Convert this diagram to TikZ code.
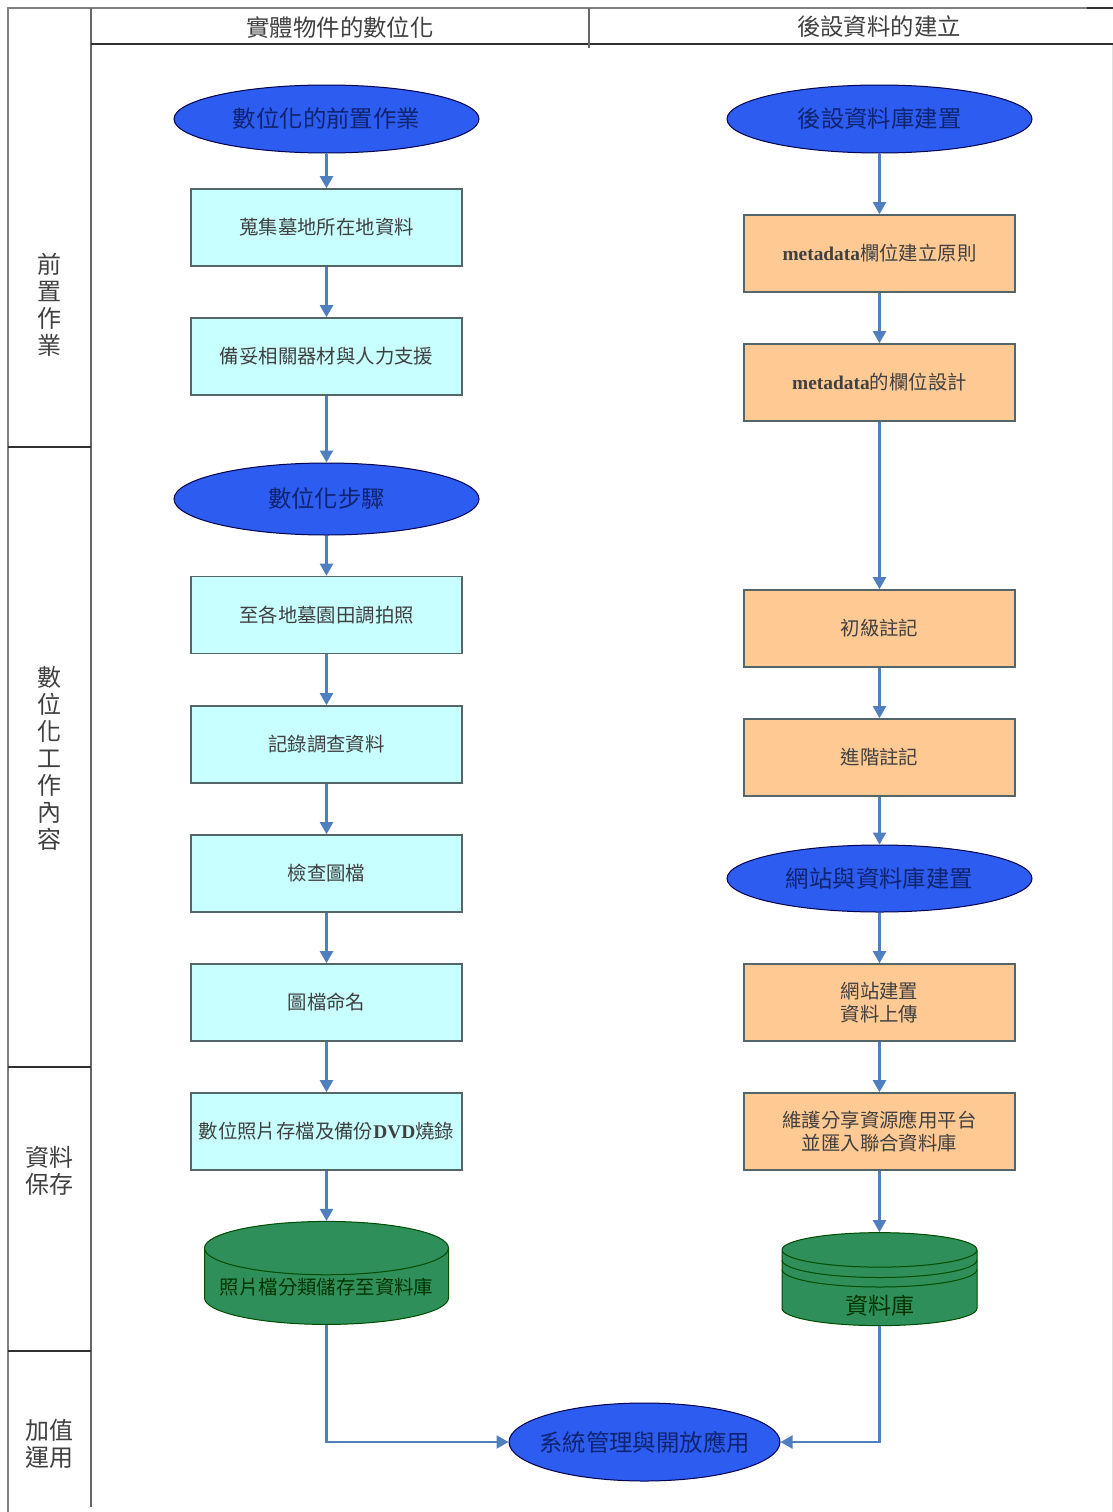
\documentclass[tikz,border=0pt]{standalone}
\usepackage{fontspec}
\usepackage{tikz}
\usetikzlibrary{arrows.meta,shapes.geometric}
\setmainfont{Noto Sans CJK TC}
\newfontfamily\latinbf{Liberation Serif}[BoldFont={Liberation Serif Bold}]
\definecolor{laneline}{HTML}{808080}
\definecolor{lanedark}{HTML}{303030}
\definecolor{flowblue}{HTML}{4F7FBF}
\definecolor{ovalblue}{HTML}{2D5CF0}
\definecolor{ovaltext}{HTML}{0F2470}
\definecolor{stepcyan}{HTML}{C8FFFF}
\definecolor{steporange}{HTML}{FFC993}
\definecolor{dbgreen}{HTML}{2F8F5B}
\definecolor{boxedge}{HTML}{55666A}
\tikzset{
    x=1pt, y=-1pt,
    lane/.style={draw=laneline, line width=2.4pt},
    lanethin/.style={draw=lanedark, line width=1.5pt},
    lanehead/.style={font=\fontsize{23.4}{25}\selectfont, text=black!75},
    laneside/.style={font=\fontsize{24}{27}\selectfont, text=black!75, align=center, text width=30pt},
    oval/.style={ellipse, draw=black!70!blue, fill=ovalblue, line width=1pt, minimum width=305pt, minimum height=68pt, inner sep=-30pt, font=\fontsize{23.4}{26}\selectfont, text=ovaltext},
    stepbox/.style={rectangle, draw=boxedge, line width=1.6pt, minimum width=271pt, minimum height=77pt, inner sep=0pt, align=center, font=\fontsize{19.4}{23}\selectfont, text=black!75},
    cyanbox/.style={stepbox, fill=stepcyan},
    orangebox/.style={stepbox, fill=steporange},
    store/.style={cylinder, shape border rotate=90, draw=black!70!green, fill=dbgreen, line width=1pt, inner sep=0pt, text=black!80!green, cylinder uses custom fill, cylinder body fill=dbgreen, cylinder end fill=dbgreen},
    storeline/.style={draw=black!70!green, line width=1pt},
    flow/.style={draw=flowblue, line width=2.2pt, -{Triangle[width=13pt,length=12pt]}},
}
\newcommand{\bflat}[1]{{\latinbf\bfseries #1}}
\newcommand{\droptext}[2]{\raisebox{-#1}[0pt][0pt]{#2}}
\begin{document}
\begin{tikzpicture}
    % Page and swimlanes:
    \useasboundingbox (0,0) rectangle (1113,1512);
    \coordinate (laneTL) at (8,8);
    \coordinate (laneTR) at (1113,8);
    \coordinate (laneBL) at (8,1512);
    \coordinate (sideTR) at (91,8);
    \coordinate (sideBR) at (91,1507);
    \coordinate (headL) at (91,44);
    \coordinate (headR) at (1113,44);
    \coordinate (midT) at (589,8);
    \coordinate (midB) at (589,48);
    \coordinate (cornerL) at (1087,8);
    \coordinate (edgeT) at (1112,44);
    \coordinate (edgeB) at (1112,1512);
    \draw[draw=black!12, line width=1pt] (edgeT) -- (edgeB);
    \draw[lane] (laneBL) -- (laneTL) -- (laneTR);
    \draw[lanethin, line width=2pt, draw=lanedark] (cornerL) -- (laneTR);
    \draw[lane, line width=2pt, draw=black!60] (sideTR) -- (sideBR);
    \draw[lanethin] (headL) -- (headR);
    \draw[lane, line width=2pt, draw=black!60] (midT) -- (midB);
    \foreach \ypos in {447,1067,1351}
        \draw[lanethin] (8,\ypos) -- (91,\ypos);
    \node[lanehead] (headA) at (340,28){實體物件的數位化};
    \node[lanehead] (headB) at (879,27){後設資料的建立};
    \node[laneside] (sideA) at (49.5,305){前\\置\\作\\業};
    \node[laneside] (sideB) at (49.5,758){數\\位\\化\\工\\作\\內\\容};
    \node[laneside, text width=50pt] (sideC) at (49.5,1171){資料\\保存};
    \node[laneside, text width=50pt] (sideD) at (49.5,1444){加值\\運用};
    % Left column:
    \node[oval] (ovalPre) at (326.5,119){數位化的前置作業};
    \node[cyanbox] (boxSite) at (326.5,227.5){蒐集墓地所在地資料};
    \node[cyanbox] (boxGear) at (326.5,356.5){備妥相關器材與人力支援};
    \node[oval, minimum height=72pt] (ovalStep) at (326.5,499){數位化步驟};
    \node[cyanbox] (boxShoot) at (326.5,615){至各地墓園田調拍照};
    \node[cyanbox] (boxNote) at (326.5,744.5){記錄調查資料};
    \node[cyanbox] (boxCheck) at (326.5,873.5){檢查圖檔};
    \node[cyanbox] (boxName) at (326.5,1002.5){圖檔命名};
    \node[cyanbox] (boxBurn) at (326.5,1131.5){數位照片存檔及備份\bflat{DVD}燒錄};
    \node[store, minimum width=244pt, minimum height=103pt, aspect=0.25, font=\fontsize{19.4}{23}\selectfont] (dbPhoto) at (326.5,1286.5){\droptext{7.5pt}{照片檔分類儲存至資料庫}};
    % Right column:
    \node[oval] (ovalMeta) at (879.5,119){後設資料庫建置};
    \node[orangebox] (boxRule) at (879.5,253.5){\bflat{metadata}欄位建立原則};
    \node[orangebox] (boxField) at (879.5,382.5){\bflat{metadata}的欄位設計};
    \node[orangebox] (boxBasic) at (879.5,628.5){初級註記};
    \node[orangebox] (boxAdv) at (879.5,757.5){進階註記};
    \node[oval, minimum height=67pt] (ovalWeb) at (879.5,878.5){網站與資料庫建置};
    \node[orangebox] (boxWeb) at (879.5,1002.5){網站建置\\資料上傳};
    \node[orangebox] (boxShare) at (879.5,1131.5){維護分享資源應用平台\\並匯入聯合資料庫};
    \node[store, minimum width=195pt, minimum height=93pt, aspect=0.5, font=\fontsize{23}{25}\selectfont] (dbData) at (879.5,1288){\droptext{26pt}{資料庫}};
    \draw[storeline] (782,1260) arc[start angle=180, end angle=0, x radius=97.5, y radius=17.5];
    \draw[storeline] (782,1269.5) arc[start angle=180, end angle=0, x radius=97.5, y radius=17.5];
    % Bottom:
    \node[oval, minimum width=271pt, minimum height=78pt] (ovalSys) at (644.5,1442){系統管理與開放應用};
    % Wires:
    \draw[flow] (ovalPre) -- (boxSite);
    \draw[flow] (boxSite) -- (boxGear);
    \draw[flow] (boxGear) -- (ovalStep);
    \draw[flow] (ovalStep) -- (boxShoot);
    \draw[flow] (boxShoot) -- (boxNote);
    \draw[flow] (boxNote) -- (boxCheck);
    \draw[flow] (boxCheck) -- (boxName);
    \draw[flow] (boxName) -- (boxBurn);
    \draw[flow] (boxBurn) -- (dbPhoto.north);
    \draw[flow] (ovalMeta) -- (boxRule);
    \draw[flow] (boxRule) -- (boxField);
    \draw[flow] (boxField) -- (boxBasic);
    \draw[flow] (boxBasic) -- (boxAdv);
    \draw[flow] (boxAdv) -- (ovalWeb);
    \draw[flow] (ovalWeb) -- (boxWeb);
    \draw[flow] (boxWeb) -- (boxShare);
    \draw[flow] (boxShare) -- (dbData.north);
    \draw[flow] (dbPhoto.south) |- (ovalSys.west);
    \draw[flow] (dbData.south) |- (ovalSys.east);
\end{tikzpicture}
\end{document}
